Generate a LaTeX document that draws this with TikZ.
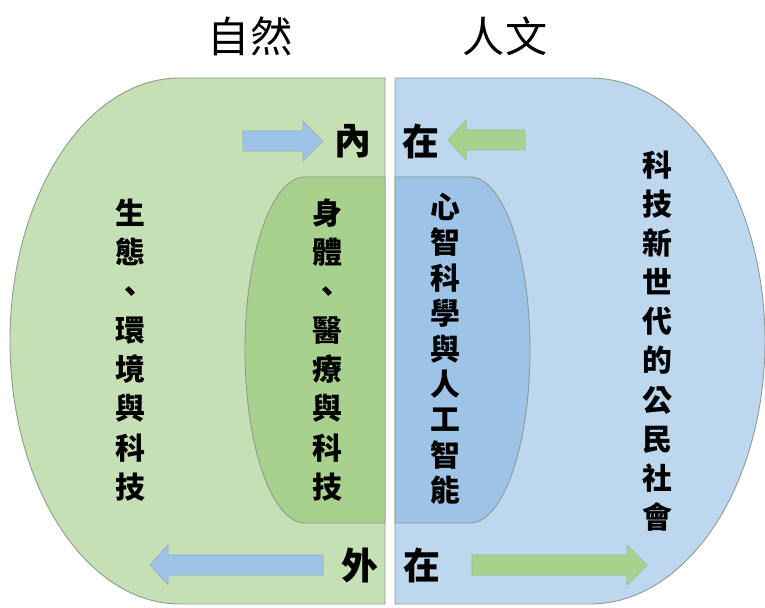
\documentclass[tikz,border=0pt]{standalone}
\usepackage{fontspec}
\newfontfamily\cjk{Noto Sans CJK TC}
\usepackage{xcolor}
\definecolor{natlight}{HTML}{C5E0B4}
\definecolor{natdark}{HTML}{A9D18E}
\definecolor{humlight}{HTML}{BDD7EE}
\definecolor{humdark}{HTML}{9DC3E6}
\definecolor{rim}{HTML}{8D9A8D}

\tikzset{
	title/.style={font=\cjk\fontsize{24}{24}\selectfont, inner sep=0pt},
	pole/.style={font=\cjk\bfseries\fontsize{21}{21}\selectfont, inner sep=0pt},
	glyph/.style={font=\cjk\bfseries\fontsize{17}{17}\selectfont, inner sep=0pt, text height=15pt, text depth=2pt},
}

\begin{document}
\begin{tikzpicture}[x=0.02cm, y=-0.02cm, line join=round]
	\useasboundingbox (0,0) rectangle (765,608);

	\filldraw[fill=natlight, draw=rim, line width=0.5pt]
		(385,78) -- (180,78) arc[start angle=270, end angle=90, x radius=170, y radius=263] -- (385,604) -- cycle;
	\filldraw[fill=humlight, draw=rim, line width=0.5pt]
		(395,78) -- (590,78) arc[start angle=270, end angle=450, x radius=175, y radius=263] -- (395,604) -- cycle;
	\filldraw[fill=natdark, draw=rim, line width=0.5pt]
		(385,177) -- (305,177) arc[start angle=270, end angle=90, x radius=60, y radius=173] -- (385,523) -- cycle;
	\filldraw[fill=humdark, draw=rim, line width=0.5pt]
		(395,177) -- (470,177) arc[start angle=270, end angle=450, x radius=60, y radius=173] -- (395,523) -- cycle;

	\foreach \xa/\xh/\xb/\yc/\col in {243/303/323/141/humdark, 525/466/448/140/natdark, 323/168/150/565/humdark, 472/627/647/565/natdark} {
		\filldraw[fill=\col, draw=\col!70!gray, line width=0.4pt]
			(\xa,\yc-10) -- (\xh,\yc-10) -- (\xh,\yc-20) -- (\xb,\yc) -- (\xh,\yc+20) -- (\xh,\yc+10) -- (\xa,\yc+10) -- cycle;
	}

	\node[title] (nature) at (250,36) {自然};
	\node[title] (humanity) at (505,36) {人文};
	\node[pole] (innerL) at (353,141) {內};
	\node[pole] (innerR) at (421,141) {在};
	\node[pole] (outerL) at (360,565) {外};
	\node[pole] (outerR) at (422,565) {在};

	\foreach \c [count=\i] in {生,態,、,環,境,與,科,技}
		\node[glyph] (eco\i) at (130, 213+39.1*\i-39.1) {\c};
	\foreach \c [count=\i] in {身,體,、,醫,療,與,科,技}
		\node[glyph] (body\i) at (327, 213+39.1*\i-39.1) {\c};
	\foreach \c [count=\i] in {心,智,科,學,與,人,工,智,能}
		\node[glyph] (mind\i) at (445, 207+35.4*\i-35.4) {\c};
	\foreach \c [count=\i] in {科,技,新,世,代,的,公,民,社,會}
		\node[glyph] (civic\i) at (657, 165+39.1*\i-39.1) {\c};
\end{tikzpicture}
\end{document}
